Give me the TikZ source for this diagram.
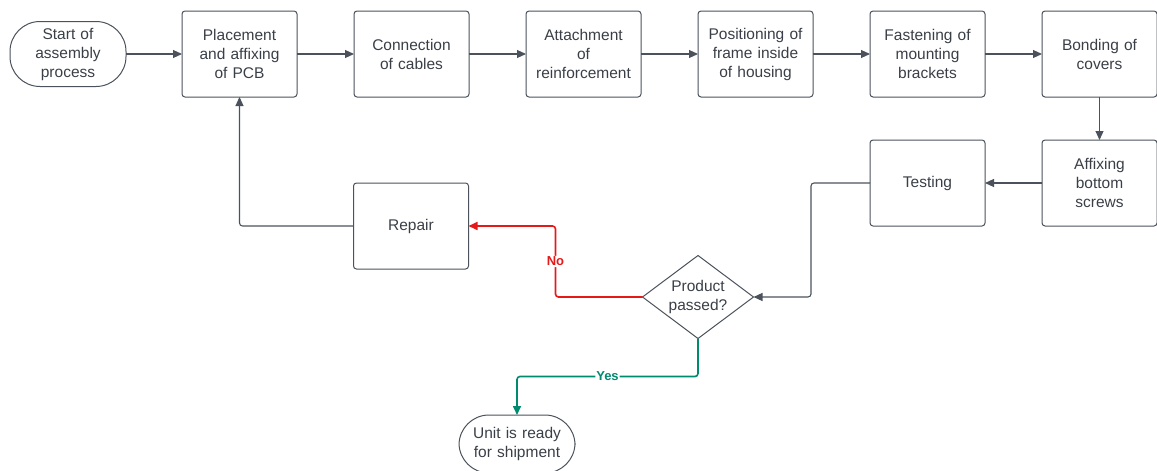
\documentclass[tikz,border=0pt]{standalone}
\usepackage{fontspec}
\setmainfont{Liberation Sans}
\usetikzlibrary{shapes.geometric,arrows.meta,positioning,calc}
\definecolor{ink}{HTML}{3A3F47}
\definecolor{edge}{HTML}{4B525C}
\definecolor{nored}{HTML}{E61919}
\definecolor{yesgreen}{HTML}{008A6E}

\begin{document}
\begin{tikzpicture}[x=1pt,y=-1pt,
  box/.style={draw=edge,line width=1pt,outer sep=0pt,rounded corners=3pt,minimum width=115pt,minimum height=86pt,
    align=center,text width=108pt,font=\fontsize{15.5}{19}\selectfont,text=ink},
  term/.style={box,rounded corners=30pt,minimum width=116pt,minimum height=65pt},
  ask/.style={diamond,aspect=1.35,draw=edge,line width=1pt,outer sep=0pt,inner sep=0pt,minimum width=111pt,minimum height=83pt,
    align=center,font=\fontsize{15.5}{19}\selectfont,text=ink},
  flow/.style={draw=edge,line width=1.1pt,rounded corners=3pt,-{Triangle[length=9pt,width=8pt]}},
  lbl/.style={fill=white,inner sep=1pt,font=\bfseries\fontsize{13}{15}\selectfont}]
\useasboundingbox (0,0) rectangle (1157,471);
\node[term] (start) at (68,54) {Start of\\assembly\\process};
\node[box,right=56pt of start] (pcb) {Placement\\and affixing\\of PCB};
\node[box,right=57pt of pcb] (cables) {Connection\\of cables};
\node[box,right=57pt of cables] (reinf) {Attachment\\of\\reinforcement};
\node[box,right=57pt of reinf] (frame) {Positioning of\\frame inside\\of housing};
\node[box,right=57pt of frame] (brackets) {Fastening of\\mounting\\brackets};
\node[box,right=57pt of brackets] (covers) {Bonding of\\covers};
\node[box,below=43pt of covers] (screws) {Affixing\\bottom\\screws};
\node[box,left=57pt of screws] (test) {Testing};
\node[box] (repair) at (411,226) {Repair};
\node[ask] (check) at (698,297) {Product\\passed?};
\node[term,minimum height=58pt] (ship) at (517,444) {Unit is ready\\for shipment};
% main line
\draw[flow] (start) -- (pcb);
\draw[flow] (pcb) -- (cables);
\draw[flow] (cables) -- (reinf);
\draw[flow] (reinf) -- (frame);
\draw[flow] (frame) -- (brackets);
\draw[flow] (brackets) -- (covers);
\draw[flow] (covers) -- (screws);
\draw[flow] (screws) -- (test);
\draw[flow] (test.west) -- ++(-59,0) |- (check.east);
% decision
\draw[flow,draw=nored,text=nored,line width=1.6pt] (check.west) -- ++(-87,0) |- node[lbl,pos=0.25] {No} (repair.east);
\draw[flow,draw=yesgreen,text=yesgreen,line width=1.6pt] (check.south) -- ++(0,38) -| node[lbl,pos=0.25] {Yes} (ship.north);
\draw[flow] (repair.west) -| (pcb.south);
\end{tikzpicture}
\end{document}
